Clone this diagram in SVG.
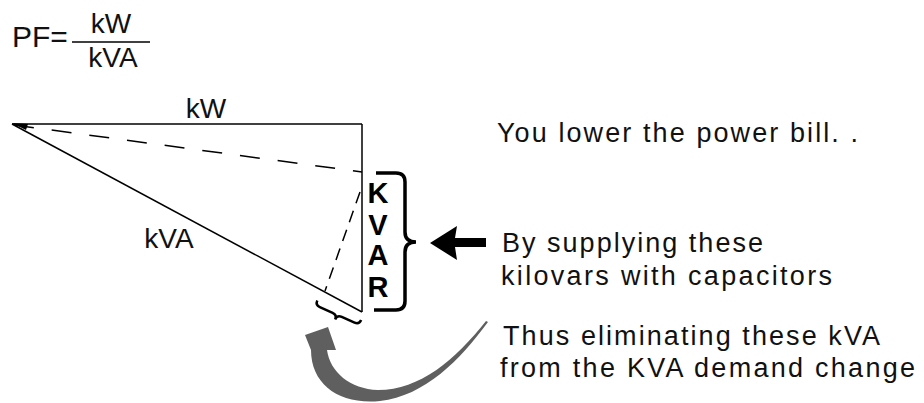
<svg xmlns="http://www.w3.org/2000/svg" width="924" height="403" viewBox="0 0 924 403">
<style>
.t{font-family:"Liberation Sans",Arial,sans-serif;fill:#111;}
.ln{stroke:#000;stroke-width:1.5;fill:none;}
.dash{stroke:#000;stroke-width:1.5;fill:none;stroke-dasharray:20 18;}
.dash2{stroke:#000;stroke-width:1.5;fill:none;stroke-dasharray:12 8;}
.kv{font-family:"Liberation Sans",Arial,sans-serif;font-weight:bold;font-size:29px;fill:#000;text-anchor:middle;}
</style>
<rect width="924" height="403" fill="#fff"/>
<g id="formula">
<text class="t" x="12" y="47" font-size="30">PF=</text>
<line class="ln" x1="72" y1="42" x2="150" y2="42"/>
<text class="t" x="111" y="33" font-size="28" text-anchor="middle">kW</text>
<text class="t" x="113" y="67" font-size="28" text-anchor="middle">kVA</text>
</g>
<g id="connectors">
<line class="ln" x1="12" y1="124" x2="362" y2="124"/>
<line class="ln" x1="362" y1="124" x2="362" y2="312"/>
<line class="ln" x1="12" y1="124" x2="362" y2="312"/>
<polygon points="12,123 28,124 26,130" fill="#000"/>
<line class="dash" x1="14" y1="125" x2="362" y2="172"/>
<line class="dash2" x1="360" y1="192" x2="325" y2="291"/>
</g>
<g id="label-kW"><text class="t" x="206" y="118" font-size="28" text-anchor="middle">kW</text></g>
<g id="label-kVA"><text class="t" x="169" y="248" font-size="28" text-anchor="middle">kVA</text></g>
<g id="kvar">
<text class="kv" x="378" y="203">K</text>
<text class="kv" x="378" y="235">V</text>
<text class="kv" x="378" y="265">A</text>
<text class="kv" x="378" y="297">R</text>
<path d="M376,173 L396,173 Q405,173 405,182 L405,232 Q405,242 416,242 Q405,242 405,252 L405,301 Q405,310 396,310 L374,310" fill="none" stroke="#000" stroke-width="3.5"/>
</g>
<g id="small-brace">
<path transform="translate(338,313) rotate(24)" d="M-24,-3 Q-24,2 -19,2 L-5,2 Q0,2 0,7 Q0,2 5,2 L19,2 Q24,2 24,-3" fill="none" stroke="#000" stroke-width="2.5"/>
</g>
<g id="arrow-left">
<path d="M430,243 L457,226 L455,238 L486,238 L486,247 L455,247 L457,260 Z" fill="#000"/>
</g>
<g id="curved-arrow">
<path d="M488,322 C460,360 425,396 380,401 C340,405 311,385 311,350 L305,335 L328,327 L336,350 L327,350 C330,372 350,389 378,390 C420,390 455,360 486,321 Z" fill="#5f5f5f"/>
</g>
<g id="text-1"><text class="t" x="497" y="142" font-size="27" textLength="361" lengthAdjust="spacing">You lower the power bill. .</text></g>
<g id="text-2">
<text class="t" x="502" y="252" font-size="27" textLength="261" lengthAdjust="spacing">By supplying these</text>
<text class="t" x="501" y="285" font-size="27" textLength="331" lengthAdjust="spacing">kilovars with capacitors</text>
</g>
<g id="text-3">
<text class="t" x="503" y="345" font-size="27" textLength="377" lengthAdjust="spacing">Thus eliminating these kVA</text>
<text class="t" x="500" y="377" font-size="27" textLength="415" lengthAdjust="spacing">from the KVA demand change</text>
</g>
</svg>
